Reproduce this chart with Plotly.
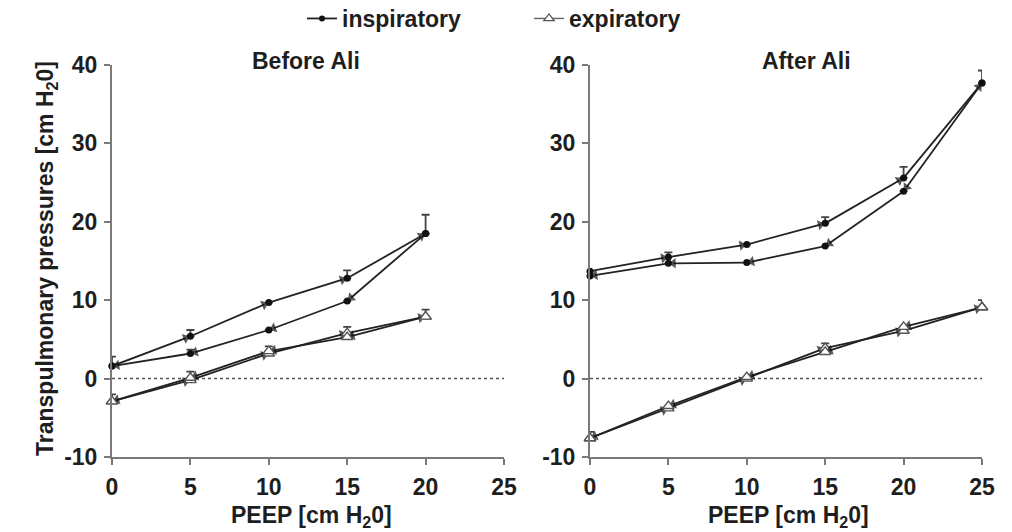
import plotly.graph_objects as go

# ---------------- data ----------------
peep_left = [0, 5, 10, 15, 20]
peep_right = [0, 5, 10, 15, 20, 25]

# Before Ali (left panel)
L_insp_up = [1.6, 5.4, 9.7, 12.8, 18.5]
L_insp_up_err = [1.2, 0.8, 0.0, 1.0, 2.4]
L_insp_down = [1.6, 3.2, 6.2, 9.9, 18.5]          # indexed by peep_left, travelled in reverse
L_insp_down_err = [0.0, 0.5, 0.0, 0.0, 0.0]
L_exp_up = [-2.9, -0.2, 3.2, 5.8, 7.9]
L_exp_up_err = [0.9, 1.1, 0.9, 0.8, 0.9]
L_exp_down = [-2.9, 0.1, 3.5, 5.3, 7.9]
L_exp_down_err = [0.0, 0.0, 0.0, 0.0, 0.0]

# After Ali (right panel)
R_insp_up = [13.7, 15.5, 17.1, 19.8, 25.6, 37.7]
R_insp_up_err = [0.0, 0.6, 0.0, 0.8, 1.4, 1.6]
R_insp_down = [13.1, 14.7, 14.8, 16.9, 23.9, 37.7]
R_insp_down_err = [0.0, 0.0, 0.0, 0.0, 0.0, 0.0]
R_exp_up = [-7.6, -3.8, 0.0, 3.9, 6.1, 9.1]
R_exp_up_err = [0.8, 0.0, 0.0, 0.6, 0.6, 0.9]
R_exp_down = [-7.6, -3.5, 0.2, 3.4, 6.6, 9.1]
R_exp_down_err = [0.0, 0.0, 0.0, 0.0, 0.0, 0.0]

x_ticks = [0, 5, 10, 15, 20, 25]
y_ticks = [-10, 0, 10, 20, 30, 40]
y_tick_text = ["-10", "0", "10", "20", "30", "40"]
panel_titles = ["Before Ali", "After Ali"]
legend_names = ["inspiratory", "expiratory"]

FONT = "Liberation Sans, Arial, Helvetica, sans-serif"
TXT = "#1e1e1e"
LINE = "#222222"
AXIS = "#7a7a7a"
FS = 23

fig = go.Figure()


def add_path(x, y, err, xa, ya, kind, reverse=False):
    if reverse:
        x = list(reversed(x)); y = list(reversed(y)); err = list(reversed(err))
    sizes = [0] + [9] * (len(x) - 1)
    # line with direction arrows
    fig.add_trace(go.Scatter(
        x=x, y=y, xaxis=xa, yaxis=ya, mode="lines+markers",
        line=dict(color=LINE, width=1.8),
        marker=dict(symbol="triangle-up", angleref="previous", size=sizes,
                    standoff=5, color="#111111", line=dict(width=0)),
        showlegend=False, cliponaxis=False, hoverinfo="skip"))
    # point symbols with upward error bars
    if kind == "insp":
        mk = dict(symbol="circle", size=7, color="#111111")
    else:
        mk = dict(symbol="triangle-up", size=10, color="white",
                  line=dict(color="#555555", width=1.4))
    fig.add_trace(go.Scatter(
        x=x, y=y, xaxis=xa, yaxis=ya, mode="markers", marker=mk,
        error_y=dict(type="data", symmetric=False, array=err,
                     arrayminus=[0] * len(err), color="#444444",
                     thickness=1.8, width=4),
        showlegend=False, cliponaxis=False))


add_path(peep_left, L_exp_up, L_exp_up_err, "x", "y", "exp")
add_path(peep_left, L_exp_down, L_exp_down_err, "x", "y", "exp", reverse=True)
add_path(peep_left, L_insp_up, L_insp_up_err, "x", "y", "insp")
add_path(peep_left, L_insp_down, L_insp_down_err, "x", "y", "insp", reverse=True)

add_path(peep_right, R_exp_up, R_exp_up_err, "x2", "y2", "exp")
add_path(peep_right, R_exp_down, R_exp_down_err, "x2", "y2", "exp", reverse=True)
add_path(peep_right, R_insp_up, R_insp_up_err, "x2", "y2", "insp")
add_path(peep_right, R_insp_down, R_insp_down_err, "x2", "y2", "insp", reverse=True)

# legend-only traces
fig.add_trace(go.Scatter(x=[None], y=[None], mode="lines+markers", name=legend_names[0],
                         line=dict(color=LINE, width=1.8),
                         marker=dict(symbol="circle", size=6, color="#111111")))
fig.add_trace(go.Scatter(x=[None], y=[None], mode="lines+markers", name=legend_names[1],
                         line=dict(color="#666666", width=1.4),
                         marker=dict(symbol="triangle-up", size=9, color="white",
                                     line=dict(color="#555555", width=1.3))))

W, H = 1012, 532
left_dom = [112 / W, 504 / W]
right_dom = [590 / W, 982 / W]
y_dom = [1 - 457 / H, 1 - 65 / H]

tick_font = dict(family=FONT, size=FS, color=TXT, weight="bold")
axis_common = dict(showline=True, linecolor=AXIS, linewidth=2, ticks="outside",
                   ticklen=6, tickwidth=2, tickcolor=AXIS, showgrid=False,
                   zeroline=False, tickfont=tick_font)

fig.update_layout(
    width=W, height=H, margin=dict(l=0, r=0, t=0, b=0, autoexpand=False),
    paper_bgcolor="white", plot_bgcolor="white",
    font=dict(family=FONT, color=TXT),
    xaxis=dict(domain=left_dom, range=[0, 25], tickvals=x_ticks, anchor="y",
               ticklabelstandoff=2, **axis_common),
    yaxis=dict(domain=y_dom, range=[-10, 40], tickvals=y_ticks, ticktext=y_tick_text,
               anchor="x", ticklabelstandoff=2, **axis_common),
    xaxis2=dict(domain=right_dom, range=[0, 25], tickvals=x_ticks, anchor="y2",
                ticklabelstandoff=2, **axis_common),
    yaxis2=dict(domain=y_dom, range=[-10, 40], tickvals=y_ticks, ticktext=y_tick_text,
                anchor="x2", ticklabelstandoff=2, **axis_common),
    legend=dict(orientation="h", x=302 / W, xanchor="left", y=1 + 3 / H, yanchor="top",
                font=dict(family=FONT, size=FS, color=TXT, weight="bold"), itemwidth=30,
                entrywidth=182, bgcolor="rgba(0,0,0,0)"),
    showlegend=True,
)

for xr, yr in [("x", "y"), ("x2", "y2")]:
    fig.add_shape(type="line", xref=xr, yref=yr, x0=0, x1=25, y0=0, y1=0,
                  line=dict(color="#555555", width=1.5, dash="dot"), layer="below")

ann = [
    dict(text=panel_titles[0], x=306 / W, y=1 - 61 / H),
    dict(text=panel_titles[1], x=806 / W, y=1 - 61 / H),
    dict(text="PEEP [cm H<sub>2</sub>0]", x=311 / W, y=1 - 516 / H),
    dict(text="PEEP [cm H<sub>2</sub>0]", x=788 / W, y=1 - 516 / H),
]
for a in ann:
    fig.add_annotation(xref="paper", yref="paper", showarrow=False,
                       xanchor="center", yanchor="middle",
                       font=dict(family=FONT, size=FS, color=TXT, weight="bold"), **a)
fig.add_annotation(xref="paper", yref="paper", showarrow=False, textangle=-90,
                   text="Transpulmonary pressures [cm H<sub>2</sub>0]",
                   x=46 / W, y=1 - 259 / H, xanchor="center", yanchor="middle",
                   font=dict(family=FONT, size=FS, color=TXT, weight="bold"))

fig.write_html("out.html")
